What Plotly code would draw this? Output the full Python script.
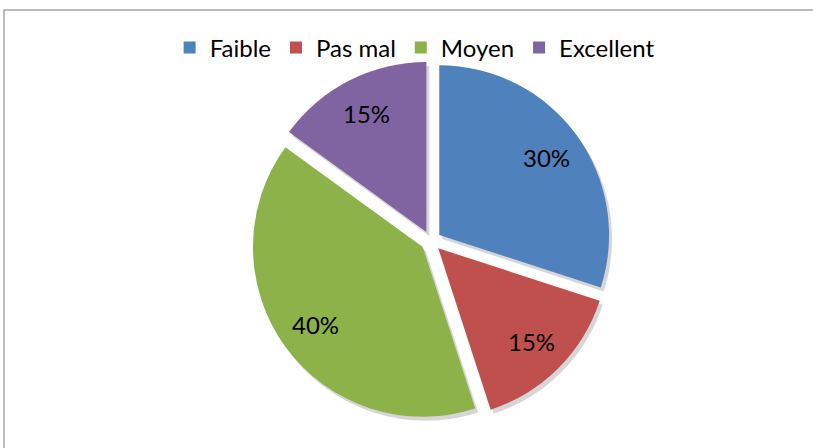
import math
import plotly.graph_objects as go

# data
labels = ["Faible", "Pas mal", "Moyen", "Excellent"]
values = [30, 15, 40, 15]
colors = ["#4F81BD", "#C0504D", "#8EB24A", "#8064A2"]

W, H = 813, 448
PULL = 0.06
# pie box in pixels (left, top, size)
PX, PY, PS = 251, 61, 360

def dom(dx=0, dy=0):
    return dict(x=[(PX + dx) / W, (PX + PS + dx) / W],
                y=[1 - (PY + PS + dy) / H, 1 - (PY + dy) / H])

# soft drop shadow under the slices
shadow = go.Pie(
    values=values, sort=False, direction="clockwise", rotation=0,
    pull=[PULL] * len(values),
    marker=dict(colors=["rgba(0,0,0,0.16)"] * len(values), line=dict(width=0)),
    textinfo="none", hoverinfo="skip", showlegend=False,
    domain=dom(3, 4),
)

pie = go.Pie(
    labels=labels,
    values=values,
    sort=False,
    direction="clockwise",
    rotation=0,
    pull=[PULL] * len(values),
    marker=dict(colors=colors, line=dict(width=0)),
    textinfo="none",
    domain=dom(),
    hoverinfo="label+percent",
)

fig = go.Figure([shadow, pie])

# percent labels placed along each slice's middle angle
cx, cy = PX + PS / 2, PY + PS / 2
R = PS / 2 / (1 + PULL)
total = sum(values)
annotations = []
acc = 0
for v in values:
    mid = (acc + v / 2) / total * 2 * math.pi
    acc += v
    r = (PULL + 0.78) * R
    x = cx + r * math.sin(mid)
    y = cy - r * math.cos(mid)
    annotations.append(dict(
        x=x / W, y=1 - y / H, xref="paper", yref="paper",
        xanchor="center", yanchor="middle",
        text=f"{round(v / total * 100)}%", showarrow=False,
        font=dict(family="Lato", size=24, color="black"),
    ))

fig.update_layout(
    width=W, height=H,
    margin=dict(l=0, r=0, t=0, b=0),
    paper_bgcolor="white",
    font=dict(family="Lato", size=24, color="black"),
    showlegend=True,
    legend=dict(
        orientation="h",
        x=0.51, xanchor="center",
        y=1 - 48 / H, yanchor="middle",
        bgcolor="rgba(0,0,0,0)",
        itemwidth=30,
        font=dict(size=24),
    ),
    annotations=annotations,
    shapes=[
        dict(type="line", xref="paper", yref="paper",
             x0=4 / W, x1=1, y0=1 - 10 / H, y1=1 - 10 / H,
             line=dict(color="#A6A6A6", width=1.5)),
        dict(type="line", xref="paper", yref="paper",
             x0=4 / W, x1=4 / W, y0=0, y1=1 - 10 / H,
             line=dict(color="#A6A6A6", width=1.5)),
    ],
)

fig.write_html("out.html", config={"displayModeBar": False},
               post_script="document.body.style.margin='0';")
